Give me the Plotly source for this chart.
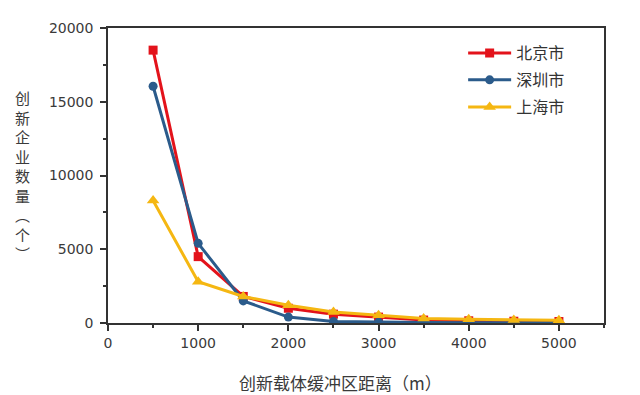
import plotly.graph_objects as go

distance = [500, 1000, 1500, 2000, 2500, 3000, 3500, 4000, 4500, 5000]
beijing = [18500, 4500, 1800, 1000, 600, 400, 200, 150, 120, 100]
shenzhen = [16050, 5400, 1500, 400, 100, 50, 30, 20, 15, 10]
shanghai = [8300, 2800, 1800, 1200, 750, 520, 300, 250, 200, 180]
series_names = ["北京市", "深圳市", "上海市"]
x_title = "创新载体缓冲区距离（m）"
y_title_chars = ["创", "新", "企", "业", "数", "量", "︵", "个", "︶"]

colors = ["#e3131b", "#2b5b8b", "#f5b712"]
symbols = ["square", "circle", "triangle-up"]
msizes = [9, 9, 11]
legend_ids = ["legend", "legend2", "legend3"]
legend_y = [0.915, 0.824, 0.732]

cjk = "Noto Sans CJK SC"
fig = go.Figure()
for name, ys, c, s, ms, lid in zip(series_names, [beijing, shenzhen, shanghai], colors, symbols, msizes, legend_ids):
    fig.add_trace(go.Scatter(
        x=distance, y=ys, name=name, mode="lines+markers",
        line=dict(color=c, width=3),
        marker=dict(symbol=s, size=ms, color=c),
        legend=lid,
    ))

legends = {}
for lid, ly in zip(legend_ids, legend_y):
    legends[lid] = dict(x=0.716, y=ly, xanchor="left", yanchor="middle",
                        font=dict(family=cjk, size=16, color="#333333"),
                        bgcolor="rgba(0,0,0,0)", itemwidth=43)

fig.update_layout(
    width=640, height=395,
    margin=dict(l=108, r=36, t=28, b=72),
    paper_bgcolor="white", plot_bgcolor="white",
    font=dict(family="DejaVu Sans", size=14, color="#3a3a3a"),
    showlegend=True,
    xaxis=dict(range=[0, 5500], tickvals=[0, 1000, 2000, 3000, 4000, 5000], tickformat="d",
               showline=True, linecolor="#333333", linewidth=1.5, mirror=True,
               ticks="outside", ticklen=6, tickwidth=1.5, tickcolor="#333333",
               minor=dict(ticks="outside", ticklen=3, dtick=500, tickcolor="#333333", tickwidth=1.5),
               showgrid=False, zeroline=False),
    yaxis=dict(range=[0, 20000], tickvals=[0, 5000, 10000, 15000, 20000], tickformat="d",
               showline=True, linecolor="#333333", linewidth=1.5, mirror=True,
               ticks="outside", ticklen=6, tickwidth=1.5, tickcolor="#333333",
               ticklabelstandoff=4,
               minor=dict(ticks="outside", ticklen=3, dtick=2500, tickcolor="#333333", tickwidth=1.5),
               showgrid=False, zeroline=False),
    **legends,
)

fig.add_annotation(
    text="<br>".join(y_title_chars), xref="paper", yref="paper",
    x=-0.173, y=0.5, xanchor="center", yanchor="middle", showarrow=False,
    font=dict(family=cjk, size=15, color="#3a3a3a"),
)
fig.add_annotation(
    text=x_title, xref="paper", yref="paper",
    x=0.468, y=-0.2, xanchor="center", yanchor="middle", showarrow=False,
    font=dict(family=cjk, size=17, color="#3a3a3a"),
)

fig.write_html("out.html", config={"displayModeBar": False},
               post_script="document.body.style.margin='0';")
